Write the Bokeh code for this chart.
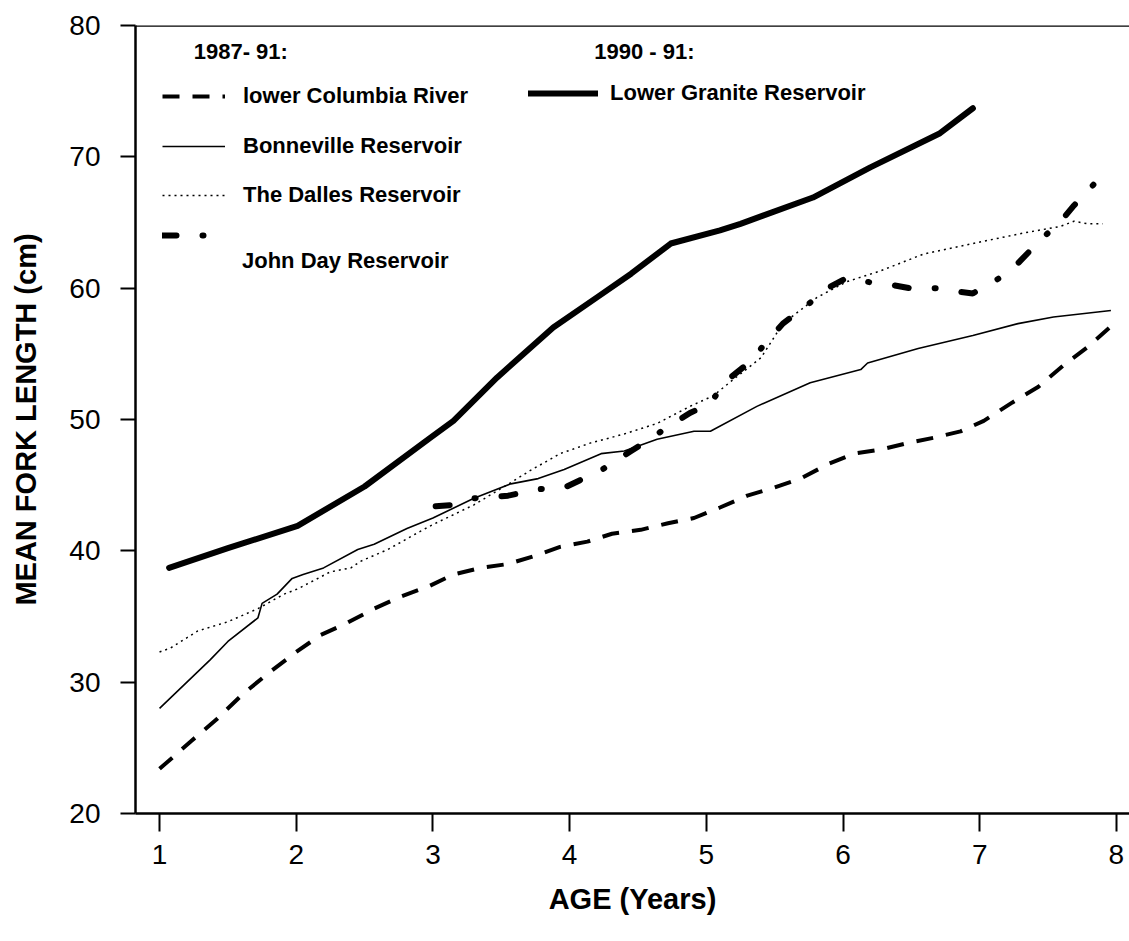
from bokeh.plotting import figure
from bokeh.models import (Range1d, FixedTicker, Span, Legend, LegendItem, Label)
from bokeh.embed import file_html
from bokeh.resources import INLINE

# ---------------- data ----------------
lc_age = [1.0, 1.23, 1.42, 1.61, 1.81, 2.0, 2.18, 2.37, 2.57, 2.76, 2.97, 3.15, 3.35,
          3.55, 3.74, 3.93, 4.13, 4.31, 4.52, 4.72, 4.91, 5.1, 5.3, 5.49, 5.69, 5.89,
          6.08, 6.27, 6.47, 6.66, 6.86, 7.03, 7.24, 7.43, 7.61, 7.8, 7.95]
lc_len = [23.4, 25.5, 27.2, 29.1, 30.8, 32.3, 33.6, 34.5, 35.6, 36.5, 37.3, 38.2, 38.7,
          39.0, 39.6, 40.3, 40.7, 41.3, 41.6, 42.1, 42.5, 43.3, 44.2, 44.8, 45.5, 46.6,
          47.4, 47.7, 48.2, 48.6, 49.1, 49.9, 51.3, 52.5, 54.1, 55.6, 57.0]

bon_age = [1.0, 1.37, 1.5, 1.72, 1.75, 1.86, 1.97, 2.05, 2.2, 2.45, 2.57, 2.81, 3.0,
           3.3, 3.57, 3.77, 3.96, 4.23, 4.4, 4.64, 4.91, 5.03, 5.37, 5.76, 6.13, 6.18,
           6.55, 6.95, 7.28, 7.54, 7.96]
bon_len = [28.0, 31.7, 33.1, 34.9, 36.0, 36.7, 37.9, 38.2, 38.7, 40.1, 40.5, 41.7, 42.5,
           44.0, 45.1, 45.5, 46.2, 47.4, 47.6, 48.5, 49.1, 49.1, 51.0, 52.8, 53.8, 54.3,
           55.4, 56.4, 57.3, 57.8, 58.3]

dal_age = [1.0, 1.08, 1.28, 1.5, 1.72, 1.91, 2.01, 2.25, 2.4, 2.47, 2.67, 2.91, 3.0,
           3.3, 3.57, 3.71, 3.93, 4.15, 4.4, 4.64, 4.88, 5.05, 5.18, 5.4, 5.56, 5.81,
           6.03, 6.27, 6.59, 6.95, 7.32, 7.59, 7.69, 7.79, 7.9]
dal_len = [32.3, 32.6, 33.9, 34.6, 35.6, 36.7, 37.1, 38.4, 38.7, 39.2, 40.1, 41.5, 42.0,
           43.5, 45.2, 46.1, 47.4, 48.2, 48.9, 49.7, 51.0, 51.8, 52.9, 54.7, 57.3, 59.3,
           60.5, 61.3, 62.6, 63.4, 64.2, 64.7, 65.1, 64.9, 64.9]

jd_age = [3.02, 3.15, 3.3, 3.55, 3.77, 3.96, 4.1, 4.24, 4.45, 4.54, 4.7, 4.88, 5.03,
          5.13, 5.32, 5.4, 5.56, 5.76, 5.87, 6.03, 6.22, 6.33, 6.49, 6.69, 6.79, 6.95,
          7.15, 7.28, 7.42, 7.61, 7.69, 7.87]
jd_len = [43.4, 43.5, 44.0, 44.2, 44.7, 44.8, 45.5, 46.2, 47.6, 48.2, 49.3, 50.5, 51.2,
          52.8, 54.4, 55.4, 57.3, 58.9, 59.9, 60.8, 60.4, 60.3, 60.0, 60.0, 59.8, 59.6,
          60.8, 61.9, 63.4, 65.3, 66.3, 68.3]

lg_age = [1.07, 1.5, 2.01, 2.5, 2.98, 3.15, 3.47, 3.88, 4.2, 4.45, 4.74, 5.1, 5.25,
          5.78, 6.2, 6.71, 6.95]
lg_len = [38.7, 40.2, 41.9, 44.9, 48.6, 49.9, 53.2, 57.0, 59.3, 61.1, 63.4, 64.4, 64.9,
          66.9, 69.2, 71.8, 73.7]

x_ticks = [1, 2, 3, 4, 5, 6, 7, 8]
y_ticks = [20, 30, 40, 50, 60, 70, 80]

FONT = "Liberation Sans"

p = figure(width=1129, height=941, output_backend="svg", toolbar_location=None,
           x_range=Range1d(0.824, 8.096), y_range=Range1d(20, 80),
           min_border_left=135, min_border_right=0, min_border_top=25,
           min_border_bottom=128)
p.background_fill_color = "white"
p.border_fill_color = "white"
p.outline_line_color = None
p.xgrid.visible = False
p.ygrid.visible = False

for ax in (p.xaxis[0], p.yaxis[0]):
    ax.axis_line_width = 2.5
    ax.axis_line_color = "black"
    ax.major_tick_line_width = 2
    ax.major_tick_line_color = "black"
    ax.major_tick_in = 0
    ax.minor_tick_line_color = None
    ax.major_label_text_font = FONT
    ax.major_label_text_font_size = "28px"
    ax.major_label_text_color = "black"
    ax.axis_label_text_font = FONT
    ax.axis_label_text_font_size = "29px"
    ax.axis_label_text_font_style = "bold"
    ax.axis_label_text_color = "black"

p.xaxis.ticker = FixedTicker(ticks=x_ticks)
p.yaxis.ticker = FixedTicker(ticks=y_ticks)
p.xaxis.major_tick_out = 18
p.yaxis.major_tick_out = 15
p.xaxis.major_label_standoff = 13
p.yaxis.major_label_standoff = 20
p.xaxis.axis_label = "AGE (Years)"
p.yaxis.axis_label = "MEAN FORK LENGTH (cm)"
p.xaxis.axis_label_standoff = 16
p.yaxis.axis_label_standoff = 24

p.add_layout(Span(location=80, dimension="width", line_color="black", line_width=2.5))

r_lc = p.line(lc_age, lc_len, line_color="black", line_width=4, line_dash="17 13")
r_bon = p.line(bon_age, bon_len, line_color="black", line_width=1.6)
r_dal = p.line(dal_age, dal_len, line_color="black", line_width=1.5, line_dash="2 4")
r_jd = p.line(jd_age, jd_len, line_color="black", line_width=6, line_dash="14 26 1 26",
              line_cap="round")
r_lg = p.line(lg_age, lg_len, line_color="black", line_width=6, line_cap="round",
              line_join="round")

FRAME_BOTTOM = 941 - 128
FRAME_LEFT = 135


def make_legend(renderer, label, left, center_y, glyph_w, standoff, h=26):
    lg = Legend(items=[LegendItem(label=label, renderers=[renderer])],
                location=(left - FRAME_LEFT, FRAME_BOTTOM - (center_y + h / 2)),
                glyph_width=glyph_w, glyph_height=h, label_height=h,
                label_standoff=standoff, padding=0, margin=0, spacing=0,
                border_line_color=None, background_fill_alpha=0,
                label_text_font=FONT, label_text_font_size="22px",
                label_text_font_style="bold", label_text_color="black")
    p.add_layout(lg, "center")
    return lg


make_legend(r_lc, "lower Columbia River", 162, 96, 63, 18)
make_legend(r_bon, "Bonneville Reservoir", 162, 146, 63, 18)
make_legend(r_dal, "The Dalles Reservoir", 162, 195, 63, 18)
make_legend(r_jd, "\n\nJohn Day Reservoir", 162, 236, 53, 27, h=76)
make_legend(r_lg, "Lower Granite Reservoir", 528, 93, 70, 12)

for txt, xv, yv in (("1987- 91:", 1.25, 78.0), ("1990 - 91:", 4.18, 78.0)):
    p.add_layout(Label(x=xv, y=yv, text=txt, text_font=FONT, text_font_size="22px",
                       text_font_style="bold", text_color="black",
                       text_baseline="middle", text_align="left"))

open("out.html", "w").write(file_html(p, INLINE))
